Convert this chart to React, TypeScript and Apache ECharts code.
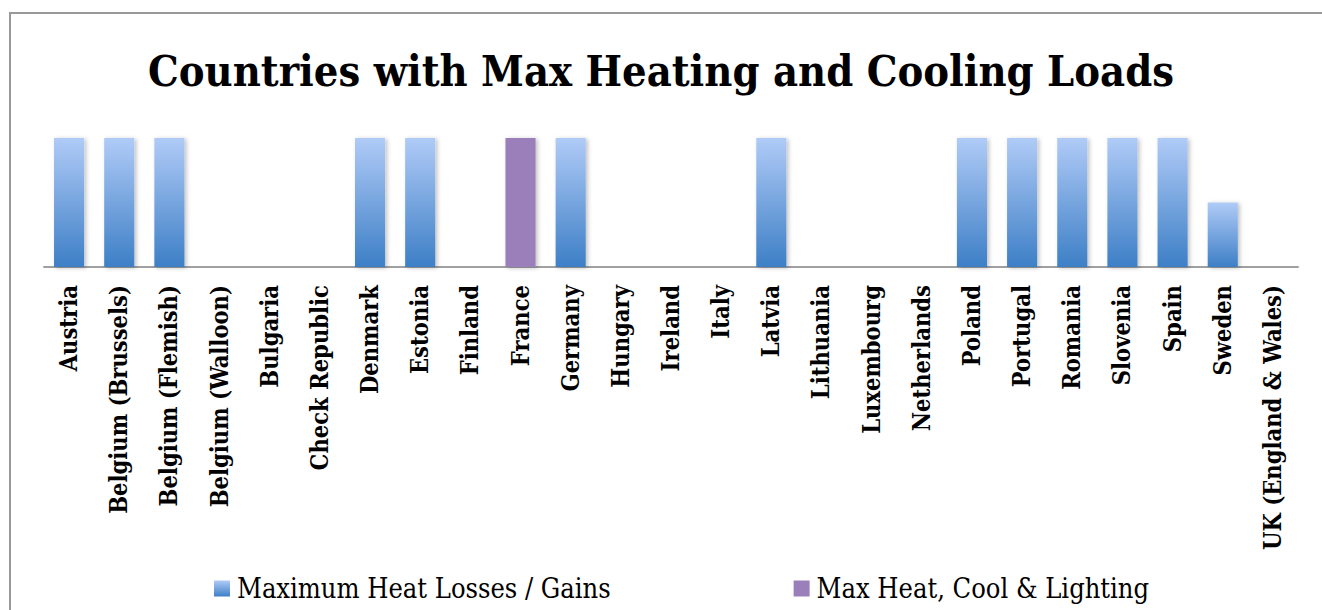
import React, { useEffect, useRef } from "react";
import * as echarts from "echarts";

const categories = [
  "Austria", "Belgium (Brussels)", "Belgium (Flemish)", "Belgium (Walloon)", "Bulgaria",
  "Check Republic", "Denmark", "Estonia", "Finland", "France", "Germany", "Hungary",
  "Ireland", "Italy", "Latvia", "Lithuania", "Luxembourg", "Netherlands", "Poland",
  "Portugal", "Romania", "Slovenia", "Spain", "Sweden", "UK (England & Wales)",
];
const heatLossesGains = [1, 1, 1, 0, 0, 0, 1, 1, 0, 0, 1, 0, 0, 0, 1, 0, 0, 0, 1, 1, 1, 1, 1, 0.5, 0];
const heatCoolLighting = [0, 0, 0, 0, 0, 0, 0, 0, 0, 1, 0, 0, 0, 0, 0, 0, 0, 0, 0, 0, 0, 0, 0, 0, 0];
const seriesNames = ["Maximum Heat Losses / Gains", "Max Heat, Cool & Lighting"];
const chartTitle = "Countries with Max Heating and Cooling Loads";

const FONT = "'DejaVu Serif Condensed', 'DejaVu Serif', 'Liberation Serif', serif";

export default function App() {
  const ref = useRef<HTMLDivElement>(null);
  useEffect(() => {
    if (!ref.current) return;
    const chart = echarts.init(ref.current, null, { renderer: "svg" });
    const blueGrad = new echarts.graphic.LinearGradient(0, 0, 0, 1, [
      { offset: 0, color: "#b0cbf7" },
      { offset: 1, color: "#3d7fc6" },
    ]);
    const shadow = {
      shadowBlur: 4,
      shadowColor: "rgba(0,0,0,0.25)",
      shadowOffsetX: 2,
      shadowOffsetY: 1,
    };
    chart.setOption({
      animation: false,
      backgroundColor: "#ffffff",
      title: {
        text: chartTitle,
        left: "center",
        top: 44,
        textStyle: { fontFamily: FONT, fontWeight: "bold", fontSize: 43, color: "#000" },
      },
      graphic: [
        {
          type: "rect",
          shape: { x: 10, y: 13, width: 1330, height: 620 },
          style: { fill: "none", stroke: "#999999", lineWidth: 2 },
          silent: true,
        },
      ],
      legend: {
        left: 214,
        top: 575,
        padding: 0,
        itemWidth: 16,
        itemHeight: 16,
        itemGap: 183,
        icon: "rect",
        textStyle: { fontFamily: FONT, fontSize: 27, color: "#000", padding: [0, 0, 0, 2] },
        data: seriesNames,
      },
      grid: { left: 44, right: 24, top: 138, bottom: 343, containLabel: false },
      xAxis: {
        type: "category",
        data: categories,
        axisLine: { show: true, lineStyle: { color: "#a0a0a0", width: 2 } },
        axisTick: { show: false },
        axisLabel: {
          interval: 0,
          rotate: 90,
          margin: 18,
          fontFamily: FONT,
          fontWeight: "bold",
          fontSize: 23.5,
          color: "#000",
        },
      },
      yAxis: {
        type: "value",
        min: 0,
        max: 1,
        show: false,
        splitLine: { show: false },
      },
      series: [
        {
          name: seriesNames[0],
          type: "bar",
          stack: "total",
          barWidth: "60%",
          data: heatLossesGains,
          itemStyle: { color: blueGrad, ...shadow },
        },
        {
          name: seriesNames[1],
          type: "bar",
          stack: "total",
          barWidth: "60%",
          data: heatCoolLighting,
          itemStyle: { color: "#9a7fba", ...shadow },
        },
      ],
    });
    return () => chart.dispose();
  }, []);
  return (
    <div
      ref={ref}
      style={{ position: "absolute", left: 0, top: 0, width: 1322, height: 610 }}
    />
  );
}
